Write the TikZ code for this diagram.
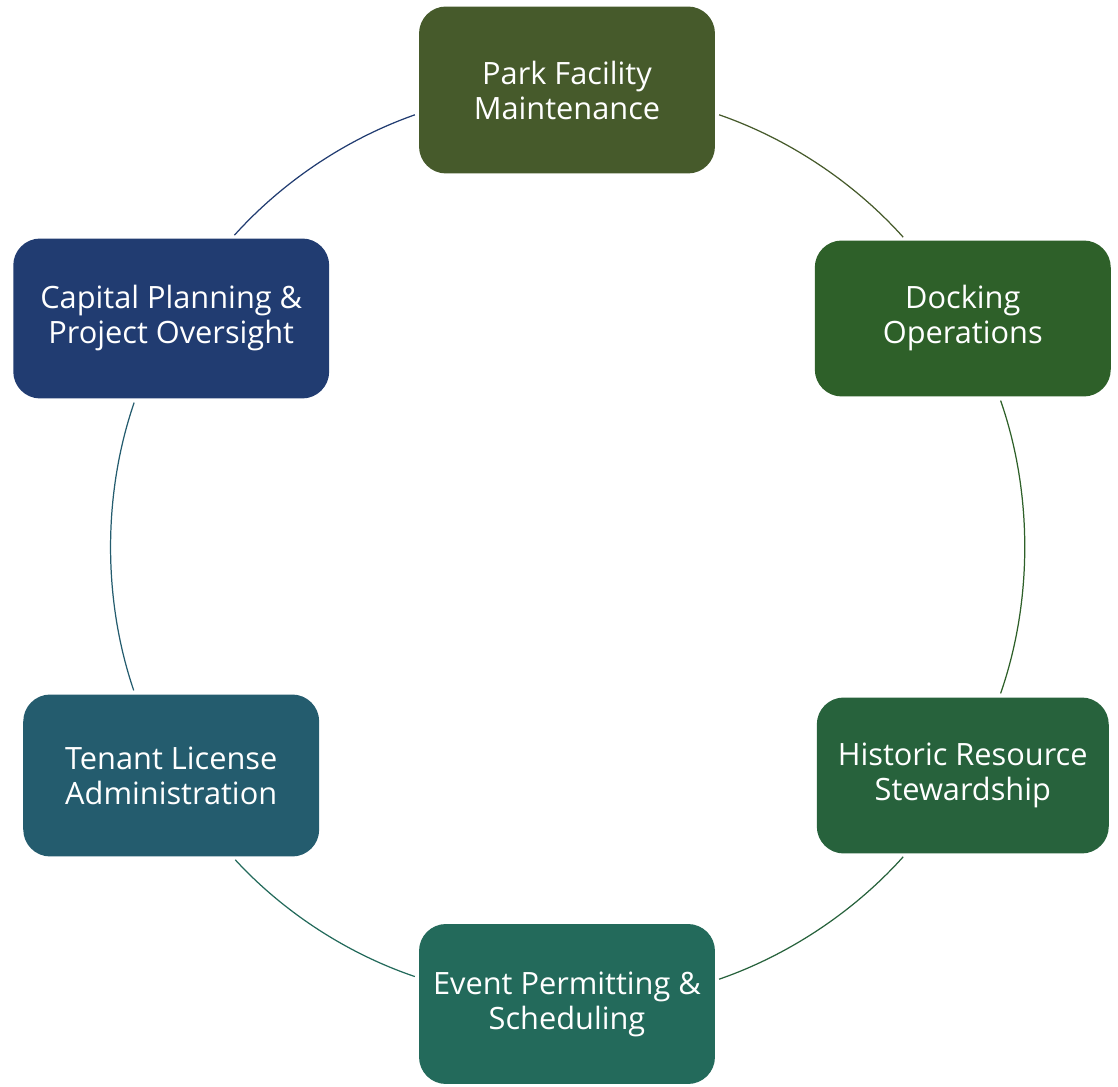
\documentclass[tikz,border=0pt]{standalone}
\usepackage{fontspec}
\setmainfont{Open Sans}
\definecolor{parkgreen}{HTML}{465A2B}
\definecolor{dockgreen}{HTML}{2E6029}
\definecolor{histgreen}{HTML}{27623C}
\definecolor{eventteal}{HTML}{236A5B}
\definecolor{tenantteal}{HTML}{245C6E}
\definecolor{capitalblue}{HTML}{213C71}

\begin{document}
\begin{tikzpicture}[x=0.02cm, y=0.02cm,
    box/.style={rounded corners=0.54cm, minimum width=5.92cm, minimum height=3.2cm,
      inner sep=0pt, text=white, align=center, font=\fontsize{17.5}{19.9}\selectfont},
    ring/.style={line width=0.7pt, looseness=0.87,
      shorten <=0.08cm, shorten >=0.08cm}]
    % Page size and margins
    \useasboundingbox (-567,-540) rectangle (551,547);

    % The six service boxes round the circle
    \node[box, fill=parkgreen, minimum height=3.34cm] (park) at (90:457) {Park Facility\\Maintenance};
    \node[box, fill=dockgreen, minimum height=3.12cm] (dock) at (30:457) {Docking\\Operations};
    \node[box, fill=histgreen, minimum width=5.84cm, minimum height=3.12cm] (hist) at (-30:457) {Historic Resource\\Stewardship};
    \node[box, fill=eventteal] (event) at (-90:457) {Event Permitting \&\\Scheduling};
    \node[box, fill=tenantteal, minimum height=3.24cm] (tenant) at (-150:457) {Tenant License\\Administration};
    \node[box, fill=capitalblue, minimum width=6.32cm] (capital) at (150:457) {Capital Planning \&\\Project Oversight};

    % Circle arcs between neighbouring boxes
    \draw[ring, parkgreen] (park.-9.4) to[bend left=14.5] (dock.126.1);
    \draw[ring, dockgreen] (dock.-65.4) to[bend left=19.2] (hist.65.4);
    \draw[ring, histgreen] (hist.-126.1) to[bend left=14.5] (event.9.4);
    \draw[ring, eventteal] (event.170.6) to[bend left=14.3] (tenant.-53.6);
    \draw[ring, tenantteal] (tenant.114.4) to[bend left=18.9] (capital.-114.5);
    \draw[ring, capitalblue] (capital.53.8) to[bend left=14.3] (park.189.4);
  \end{tikzpicture}
\end{document}
